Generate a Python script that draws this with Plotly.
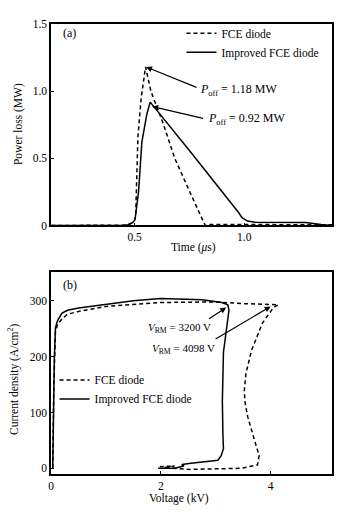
import plotly.graph_objects as go

# ---------- Data: panel (a) power loss ----------
t_fce = [0.12, 0.30, 0.45, 0.47, 0.49, 0.50, 0.505, 0.515, 0.53, 0.55, 0.574, 0.63, 0.683, 0.76, 0.822, 0.84, 1.0, 1.2, 1.4]
p_fce = [0.0, 0.0, 0.002, 0.006, 0.02, 0.04, 0.08, 0.66, 0.95, 1.18, 1.0, 0.76, 0.5, 0.22, 0.0, 0.008, 0.008, 0.008, 0.005]

t_imp = [0.12, 0.30, 0.45, 0.47, 0.49, 0.50, 0.503, 0.518, 0.533, 0.556, 0.571, 0.76, 0.955, 0.975, 0.99, 1.015, 1.05, 1.28, 1.35, 1.4]
p_imp = [0.0, 0.0, 0.002, 0.006, 0.02, 0.04, 0.058, 0.25, 0.62, 0.83, 0.918, 0.537, 0.143, 0.095, 0.058, 0.033, 0.025, 0.022, 0.008, 0.0]

# ---------- Data: panel (b) J-V trajectory ----------
v_fce = [1.98, 2.25, 2.05, 2.55, 3.0, 3.46, 3.76, 3.79, 3.7, 3.58, 3.53, 3.52, 3.55, 3.65, 3.85, 4.05, 4.14,
         3.5, 3.0, 2.0, 1.0, 0.5, 0.3, 0.2, 0.12, 0.08, 0.05, 0.03]
j_fce = [3, 4, 1, -2, -1, 0, 6, 23, 52, 93, 120, 140, 170, 211, 260, 288, 293,
         295, 298, 297, 290, 281, 276, 268, 258, 245, 150, 0]

v_imp = [1.95, 2.25, 2.42, 2.38, 2.55, 3.04, 3.1, 3.14, 3.13, 3.12, 3.14, 3.2, 3.24, 3.22, 3.11, 2.75, 2.0, 1.5, 1.0, 0.5, 0.3, 0.2, 0.12, 0.08, 0.06, 0.04, 0.03]
j_imp = [0, 0, 4, 7, 9, 14.5, 23, 35, 60, 121, 208, 260, 283, 293, 297, 302, 304, 300, 294, 287, 283, 278, 265, 252, 200, 100, 0]

FONT = "Liberation Serif"
FS = 11.5
fig = go.Figure()

fig.add_trace(go.Scatter(x=t_fce, y=p_fce, mode="lines", name="FCE diode",
                         line=dict(color="black", width=1.5, dash="4px,3px"),
                         xaxis="x", yaxis="y", legend="legend"))
fig.add_trace(go.Scatter(x=t_imp, y=p_imp, mode="lines", name="Improved FCE diode",
                         line=dict(color="black", width=1.5),
                         xaxis="x", yaxis="y", legend="legend"))
fig.add_trace(go.Scatter(x=v_fce, y=j_fce, mode="lines", name="FCE diode",
                         line=dict(color="black", width=1.5, dash="4px,3px"),
                         xaxis="x2", yaxis="y2", legend="legend2"))
fig.add_trace(go.Scatter(x=v_imp, y=j_imp, mode="lines", name="Improved FCE diode",
                         line=dict(color="black", width=1.5),
                         xaxis="x2", yaxis="y2", legend="legend2"))

ax_common = dict(showgrid=False, zeroline=False, showline=True, linecolor="black", linewidth=1.5,
                 mirror=True, ticks="inside", ticklen=3, tickwidth=1, tickcolor="black",
                 tickfont=dict(family=FONT, size=FS, color="black"))

XD = [48.5 / 350, 332 / 350]
fig.update_layout(
    width=350, height=516, margin=dict(l=0, r=0, t=0, b=0),
    paper_bgcolor="white", plot_bgcolor="white",
    font=dict(family=FONT, size=FS, color="black"),
    xaxis=dict(domain=XD, range=[0.119, 1.401], tickvals=[0.5, 1.0], ticktext=["0.5", "1.0"],
               anchor="y", **ax_common),
    yaxis=dict(domain=[0.5645, 0.9645], range=[0, 1.5], tickvals=[0, 0.5, 1.0, 1.5],
               ticktext=["0", "0.5", "1.0", "1.5"], anchor="x", **ax_common),
    xaxis2=dict(domain=XD, range=[0, 5.12], tickvals=[0, 2, 4], ticktext=["0", "2", "4"],
                anchor="y2", **ax_common),
    yaxis2=dict(domain=[0.0711, 0.4715], range=[-10.5, 351], tickvals=[0, 100, 200, 300],
                ticktext=["0", "100", "200", "300"], anchor="x2", **ax_common),
    legend=dict(x=180 / 350, y=(516 - 13) / 516, xanchor="left", yanchor="top",
                bgcolor="rgba(0,0,0,0)", font=dict(family=FONT, size=FS, color="black"),
                itemwidth=30, tracegroupgap=0),
    legend2=dict(x=52 / 350, y=(516 - 368) / 516, xanchor="left", yanchor="top",
                 bgcolor="rgba(0,0,0,0)", font=dict(family=FONT, size=FS, color="black"),
                 itemwidth=30, tracegroupgap=0),
    showlegend=True,
)

C = dict(xanchor="center", yanchor="middle", showarrow=False, font=dict(size=FS))
L = dict(xanchor="left", yanchor="middle", showarrow=False, font=dict(size=12))
L11 = dict(xanchor="left", yanchor="middle", showarrow=False, font=dict(size=11))
ann = []
# axis titles
ann.append(dict(text="Power loss (MW)", x=15 / 350, y=(516 - 121) / 516, xref="paper", yref="paper",
                textangle=-90, **C))
ann.append(dict(text="Time (<i>μ</i>s)", x=192 / 350, y=(516 - 247) / 516, xref="paper", yref="paper", **C))
ann.append(dict(text="Current density (A/cm<sup>2</sup>)", x=10 / 350, y=(516 - 382) / 516, xref="paper",
                yref="paper", textangle=-90, **C))
ann.append(dict(text="Voltage (kV)", x=178 / 350, y=(516 - 504) / 516, xref="paper", yref="paper", **C))
# panel labels
ann.append(dict(text="(a)", x=59 / 350, y=(516 - 28) / 516, xref="paper", yref="paper", **L))
ann.append(dict(text="(b)", x=59 / 350, y=(516 - 286) / 516, xref="paper", yref="paper", **L))

arrow_style = dict(showarrow=True, arrowhead=2, arrowsize=1, arrowwidth=1.2, arrowcolor="black", text="")
# panel (a) arrows & labels
ann.append(dict(x=0.552, y=1.18, ax=0.789, ay=1.023, xref="x", yref="y", axref="x", ayref="y", **arrow_style))
ann.append(dict(text="<i>P</i><sub>off</sub> = 1.18 MW", x=0.789, y=1.01, xref="x", yref="y", **L))
ann.append(dict(x=0.58, y=0.885, ax=0.819, ay=0.794, xref="x", yref="y", axref="x", ayref="y", **arrow_style))
ann.append(dict(text="<i>P</i><sub>off</sub> = 0.92 MW", x=0.825, y=0.79, xref="x", yref="y", **L))
# panel (b) arrows & labels
ann.append(dict(x=3.19, y=288, ax=2.85, ay=266, xref="x2", yref="y2", axref="x2", ayref="y2", **arrow_style))
ann.append(dict(text="<i>V</i><sub>RM</sub> = 3200 V", x=1.72, y=252, xref="x2", yref="y2", **L11))
ann.append(dict(x=4.0, y=290, ax=2.97, ay=230, xref="x2", yref="y2", axref="x2", ayref="y2", **arrow_style))
ann.append(dict(text="<i>V</i><sub>RM</sub> = 4098 V", x=1.81, y=214, xref="x2", yref="y2", **L11))

fig.update_layout(annotations=ann)
fig.write_html("out.html")
